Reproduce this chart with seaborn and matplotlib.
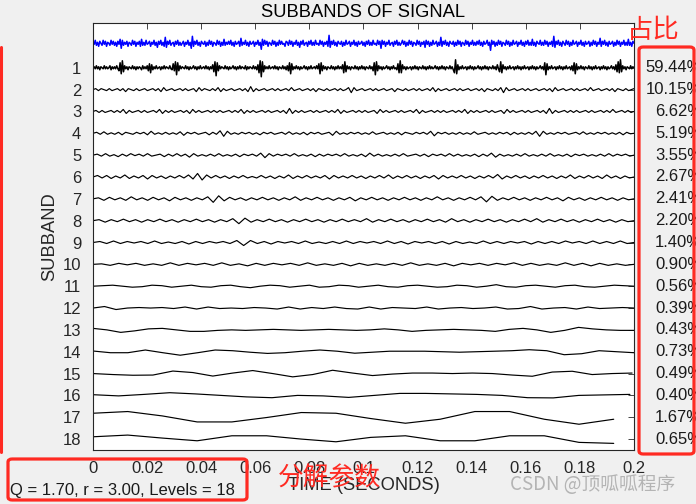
import numpy as np
import pandas as pd
import matplotlib
matplotlib.use("Agg")
import matplotlib.pyplot as plt
import seaborn as sns
from matplotlib.patches import FancyBboxPatch
from matplotlib.lines import Line2D
import matplotlib.transforms as mtransforms

# ---------------- data (amplitudes, in pixel-ish units, up = positive) -------------
signal = [2,-1,3,-2,1,-3,2,0,-2,3,-1,2,-3,1,0,-2,3,-1,2,-2,
          1,-3,2,-1,4,-5,3,-2,1,-1,2,-3,1,0,-2,3,-1,2,-3,1,
          -1,2,-3,4,-2,1,-2,3,-1,0,2,-3,1,-1,3,-2,1,-4,2,-1,
          3,-2,1,-3,6,-4,2,-1,3,-2,0,1,-3,2,-1,3,-2,1,-2,0,
          2,-3,1,-1,3,-2,1,-5,7,-3,2,-1,3,-2,1,-3,2,0,-1,2,
          -3,1,-2,3,-1,2,-3,1,0,-2,3,-1,2,-3,1,-2,4,-2,1,-1,
          2,-1,3,-2,1,-3,2,-1,0,2,-3,5,-2,1,-1,3,-2,1,-3,2,
          -1,0,2,-3,1,-1,3,-2,1,-6,4,-2,3,-1,2,-3,1,0,-2,3,
          -1,2,-3,1,-2,3,-1,2,-1,0,-3,2,1,-2,3,-1,2,-3,1,-1,
          3,-2,1,-4,2,-1,3,-2,0,1,-3,2,-1,3,-2,1,-2,3,-1,0,
          -2,3,-1,2,-3,1,-1,2,-3,8,-4,2,-1,3,-2,1,-3,2,0,-1,
          2,-3,1,-2,3,-1,0,2,-3,1,-1,3,-2,1,-3,2,-1,0,2,-2,
          1,-3,2,-1,3,-2,1,-2,3,-1,0,-2,3,-1,2,-5,3,-1,2,-3,
          1,-1,3,-2,0,1,-3,2,-1,3,-2,1,-2,0,3,-1,2,-3,1,-2,
          3,-1,2,-3,1,0,-2,3,-1,2,-3,1,-1,2,-4,3,-1,2,-3,1,
          -2,3,-1,0,2,-3,1,-2,6,-3,2,-1,3,-2,1,-3,2,0,-1,2,
          -3,1,-2,3,-1,2,-3,1,0,-2,3,-1,2,-3,1,-1,3,-2,1,-2,
          2,-1,3,-2,1,-3,2,-1,0,3,-2,1,-7,3,-1,2,-3,1,-2,3,
          -1,2,-3,1,0,-2,3,-1,2,-3,1,-2,3,-1,0,2,-3,1,-1,3,
          -2,1,-3,2,-1,3,-2,1,-2,4,-2,1,-3,2,0,-1,3,-2,1,-2,
          3,-1,2,-3,1,-1,2,-3,7,-4,2,-1,3,-2,1,-3,2,0,-2,3,
          -1,2,-3,1,-2,3,-1,0,2,-3,1,-1,3,-2,1,-3,2,-1,0,2,
          -3,1,-2,3,-1,2,-3,1,-1,5,-3,2,-1,3,-2,1,-3,2,-1,0,
          2,-3,1,-2,3,-1,2,-3,1,-1,3,-2,1,-2,4,-2,1,-3,2,0]
sb1 = [0,1,-1,2,-1,1,-2,1,0,-1,2,-1,1,-1,0,2,-2,1,-1,1,
       -1,2,-1,-3,5,-6,7,-4,2,-1,1,-2,1,0,-1,2,-1,1,-2,1,
       -1,1,0,-2,2,-1,1,-1,2,-3,4,-5,3,-2,1,-1,2,-1,0,1,
       -2,1,-1,2,-1,1,0,-1,2,-1,-2,4,-3,6,-7,5,-3,2,-1,1,
       0,-1,2,-1,1,-2,1,-1,0,2,-1,1,-2,1,-1,2,-1,0,1,-1,
       2,-1,1,-2,1,-1,3,-4,6,-8,5,-3,2,-1,1,0,-1,2,-1,1,
       -2,1,-1,0,2,-1,1,-2,1,-1,2,-1,1,0,-1,2,-2,1,-1,1,
       0,-1,2,-1,1,-2,3,-5,7,-9,6,-4,2,-1,1,-1,2,-1,0,1,
       -1,2,-1,1,-2,1,0,-1,2,-1,1,-2,2,-3,5,-6,4,-2,1,-1,
       2,-1,1,-2,1,-1,0,2,-1,1,-2,1,-1,2,-1,0,1,-1,2,-1,
       4,-6,5,-3,2,-1,1,-2,1,0,-1,2,-1,1,-2,1,-1,2,-1,1,
       -1,3,-5,6,-4,2,-1,1,-2,1,0,-1,2,-1,1,-2,1,-1,2,-1,
       1,-2,1,0,-1,2,-1,1,-3,5,-7,6,-3,2,-1,1,-2,1,-1,0,
       2,-1,1,-2,1,-1,2,-1,0,-2,4,-5,7,-5,3,-1,1,-2,1,-1,
       0,1,-2,1,-1,2,-1,1,-2,1,0,-1,2,-1,1,-2,1,-1,2,-1,
       1,-1,0,2,-1,1,-2,1,-1,2,-1,1,-2,1,0,-1,2,-1,1,-2,
       -5,8,-6,3,-2,1,-1,2,-1,0,1,-2,1,-1,2,-1,1,-2,1,-1,
       0,2,-1,1,-2,1,-1,2,-1,1,-2,1,0,-1,2,-1,1,-2,3,-1,
       -4,6,-5,3,-1,1,-2,1,-1,2,-1,0,1,-2,1,-1,2,-1,1,-2,
       1,-1,2,-1,0,1,-2,1,-1,2,-1,1,-2,1,-1,0,2,-1,1,-2,
       5,-7,4,-2,1,-1,2,-1,0,1,-2,1,-1,2,-1,1,-2,1,-1,2,
       -1,0,1,-2,2,-3,5,-6,4,-2,1,-1,2,-1,1,-2,1,0,-1,2,
       -1,1,-2,1,-1,2,-1,0,1,-2,1,-1,2,-1,1,-2,1,-1,0,2,
       -1,1,-2,3,-4,6,-5,8,-4,2,-1,1,-2,1,0,-1,2,-1,1,0]
sb2 = [0,1,-1,1,0,-1,1,-1,0,1,-1,1,-2,1,0,-1,1,-1,0,1,
       -1,0,1,-1,1,-2,2,-1,0,1,-1,0,1,-1,1,-1,0,1,-2,2,
       -1,1,0,-1,1,-1,2,-2,1,-1,0,1,-1,0,1,-1,1,-2,3,-2,
       1,-1,0,1,-1,0,1,-1,1,-1,0,1,-1,2,-1,0,1,-1,0,1,
       -1,1,-2,1,0,-1,1,-1,0,1,-1,1,-1,0,2,-3,2,-1,0,1,
       -1,0,1,-1,1,-1,0,1,-1,0,1,-2,1,0,-1,1,-1,0,1,-1,
       1,-1,0,1,-1,2,-2,1,-1,0,1,-1,0,1,-1,1,-1,0,1,-1,
       0,1,-1,1,-2,1,0,-1,1,-1,2,-3,2,-1,0,1,-1,0,1,-1,
       1,-1,0,1,-1,0,1,-1,1,-2,2,-1,0,1,-1,0,1,-1,1,-1,
       0,1,-1,2,-1,0,1,-1,0,1,-1,1,-2,1,0,-1,1,-1,0,1]
sb3 = [0,1,-1,1,-1,0,1,-1,1,-1,2,-2,1,-1,0,1,-1,1,-1,0,
       1,-1,2,-2,1,-1,1,-1,0,1,-1,1,-2,2,-1,1,-1,0,1,-1,
       1,-1,1,-1,0,1,-1,1,-1,2,-2,1,-1,1,-1,0,1,-1,1,-1,
       0,1,-1,1,-2,3,-2,1,-1,1,-1,0,1,-1,1,-1,0,1,-1,1,
       -1,2,-2,1,-1,0,1,-1,1,-1,1,-1,0,1,-2,2,-1,1,-1,0,
       1,-1,1,-1,0,1,-1,2,-2,1,-1,0,1,-1,1,-1,1,-1,0,1,
       -1,1,-1,2,-2,1,-1,1,-1,0,1,-1,1,-1,0,1,-2,2,-1,1,
       -1,0,1,-1,1,-1,0,1,-1,1,-2,3,-2,1,-1,0,1,-1,1,-1,
       1,-1,0,1,-1,1,-1,0,1,-1,1,-1,2,-1,0,1,-1,1,-1,0]
sb4 = [0,1,-1,1.5,-1,0.5,-1,1,-1.5,1,0,-1,1,-0.5,1,-1.5,2,-1,0.5,-1,
       1,-1,0.5,-1,1.5,-2,1,-0.5,1,-1,0,1,-1.5,1,-1,2.5,-3,2,-1,0.5,
       -1,1,-0.5,1,-1,0.5,-1.5,1,-0.5,1,-1,0,1,-1,1.5,-1,0.5,-1,1,-1.5,
       1,-0.5,1,-1,0,1,-2,2,-1,0.5,-1,1,-0.5,1,-1,0.5,-1,1.5,-1,0,
       1,-1,0.5,-1,1,-1.5,1,0,-1,1,-0.5,1,-1,2,-2.5,1,-0.5,1,-1,0.5,
       -1,1,-1,0.5,-1,1.5,-1,0,1,-1,0.5,-1,1,-0.5,1,-1.5,1,-1,0.5,-1,
       1,-1,2,-3,2,-1,0.5,-1,1,-0.5,1,-1,0,1,-1,1.5,-1,0.5,-1,1,
       -0.5,1,-1,0.5,-1,1,-1.5,1,-0.5,0]
sb5 = [0,1,-1,1.5,-1,0.5,-1.5,1,-1,1.5,-0.5,1,-1,1.5,-1,0,1,-1.5,1,-1,
       1.5,-1,1,-2,1.5,-1,0.5,-1,1,-1,1.5,-1,0.5,-1,1,-1.5,1,-0.5,1,-1,
       2,-2.5,1.5,-1,1,-0.5,1,-1,1.5,-1,0.5,-1,1,-1.5,1,-1,1,-0.5,1,-1,
       1.5,-1,0.5,-1,1,-1.5,2,-1,1,-1,0.5,-1,1,-1,1.5,-1,0,1,-1,1,
       -1.5,1,-0.5,1,-1,1.5,-1,1,-1,0.5,-1,1,-1.5,1,-1,2,-2,1,-1,0.5,
       -1,1,-1,1.5,-1,0.5,-1,1,-1,1.5,-1,0.5,-1,1,-1.5,1,-0.5,1,-1,0.5,
       -1,1,-1,1.5,-1,1,-0.5,1,-1,0]
sb6 = [0,1.5,-1,1.5,-1.5,1,-1,2,-1.5,1,-1,1.5,-2,1.5,-1,1,-1.5,1,-1,1.5,
       -1,2,-2,3.5,-3,2,-1,1.5,-1,1,-1.5,1,-1,1.5,-1,0.5,-1,1.5,-1,1,
       -1.5,1,-1,2,-1.5,1,-1,1.5,-1,1,-1,1.5,-2,1.5,-1,1,-1,1.5,-1,1,
       -1.5,1,-1,1.5,-1,2,-1.5,1,-1,1.5,-1,1,-1.5,1,-1,1.5,-2,1.5,-1,1,
       -1,1.5,-1,1,-1.5,1,-1,1.5,-1,2.5,-2,1,-1,1.5,-1,1,-1.5,1,-1,1.5,
       -1,1,-1.5,1,-1,2,-1.5,1,-1,1.5,-1,1,-1.5,2,-1,1,-1.5,1,-1,0]
sb7 = [0,1,-1.5,1.5,-1,1,-1.5,2,-1,1,-1.5,1.5,-1,1,-2,1.5,-1,1,-1.5,1,
       -1,2,-3.5,3,-2,1.5,-1,1,-1.5,1,-1,1.5,-1,1,-1.5,1,-1,2,-1.5,1,
       -1,1.5,-1,1,-1.5,1,-1,1.5,-2,1,-1,1.5,-1,1,-1.5,1,-1,1.5,-1,1,
       -1.5,1,-1,2,-1,1,-1.5,1,-1,1.5,-1,2,-3,2.5,-1.5,1,-1,1.5,-1,1,
       -1.5,1,-1,1.5,-1,1,-2,1.5,-1,1,-1.5,1,-1,1.5,-1,1,-1.5,1,-1,0]
sb8 = [0,1,-1.5,1,-1,1.5,-1,1,-1.5,1,-1,1.5,-1,1,-1.5,1,-1,1.5,-1,1,
       -1.5,1,-1,2,-3,2.5,-1.5,1,-1,1.5,-1,1,-1.5,1,-1,1.5,-1,1,-1.5,1,
       -1,1.5,-1,1,-1,2,-1.5,1,-1,1.5,-1,1,-1.5,1,-1,1.5,-1,1,-1.5,2,
       -1,1,-1.5,1,-1,1.5,-1,1,-1.5,1,-1,1.5,-1,2,-1.5,1,-1,1.5,-1,1,
       -1.5,1,-1,1.5,-1,1,-1.5,1,-1,0]
sb9 = [0,1,-1,1.5,-1,1,-0.5,1,-1,1.5,-1,0.5,-1,1,-1.5,1,-1,1,-0.5,1,
       -1,2,-3,2,-1,1,-1.5,1,-0.5,1,-1,1.5,-1,0.5,-1,1,-1,1.5,-1,1,
       -0.5,1,-1,1.5,-1,1,-1.5,1,-0.5,1,-1,1,-1.5,1,-1,0.5,-1,1.5,-1,1,
       -1,1,-0.5,1,-1.5,1,-1,1,-1,1.5,-0.5,1,-1,1.5,-1,1,-1,1.5,-1,0]
sb10 = [0,0.5,-1,1,-0.5,1,-1,0.5,-1,1.5,-1,1,-0.5,1,-1,1.5,-1,0.5,-1.5,1,
        -1,1,-0.5,1,-1,1.5,-1,0.5,-1,1,-1.5,1,-1,0.5,-1,1,-1,1.5,-1,0.5,
        -1,1,-1.5,1,-0.5,1,-1,1,-0.5,1.5,-1,1,-1,0.5,-1,1.5,-1,1,-1.5,1,
        -1,0.5,-1,0]
sb11 = [0,0.5,1,0,-1,-0.5,1,0.5,-1,0,1,-0.5,-1,0.5,1,-0.5,-1.5,0,1,0.5,
        -1,0,1,-1,-0.5,1,0.5,-1,0,1,-0.5,-1,0.5,1,0,-1,-0.5,1,0.5,-1,
        0,1.5,-0.5,-1,0.5,1,0,-1,0.5,1,-0.5,-1,0,1,0.5,0]
sb12 = [0,1.5,-1.5,0,0.5,0,0.5,-0.5,1,-1,1,-0.5,0,-0.5,0.5,0,-1,1,-1,0.5,
        -0.5,1,-0.5,-1,1,-1,0.5,0,-0.5,1,-1,0,0.5,-0.5,0,1,-1,-0.5,1.5,-1,
        0,0.5,-1,1,-0.5,0,0.5,0]
sb13 = [1.5,0,-2.5,-1,1,1.5,0,-1.5,-1.5,-0.5,0,-0.5,0,0.5,0,-0.5,0,0.5,0,-0.5,
        0,1,0,-1.5,-0.5,0,0.5,0,-0.5,-1.5,0.5,1.5,0,-2.5,-0.5,2.5,1,0,-0.5,-0.5]
sb14 = [0.7,-1,-1,1.7,-1,-3.5,-1,1.7,1,-0.5,-1.7,-1,0.5,1.7,0.5,-1.5,
        -0.5,0.5,0.5,0.5,0,-0.5,0,0.5,1,2,1,-3,-2,1,0,-1]
sb15 = [0,-1,-1.7,-1.5,2.5,1,-2.5,0.5,3,0,-3.3,-1,3.3,0.5,
        -2,-0.5,0.5,0.5,0,0.5,0,-1.5,-2.7,1.5,2.3,-1,0,0.5]
sb16 = [0.7,-0.5,1,2.7,1.5,0,-1.5,-2.3,0,-0.5,-2,
        0,2,2,1.5,1,0,-2.3,-2.5,0,0.5,1]
sb17 = [4,5.7,1.3,-4.7,-4.7,-0.3,4.7,4,-1.3,-6,-2,5.7,5.7,-2,-7,-2]
sb18 = [2.3,4,1,-1.7,3.3,3.3,0,-2.7,1.7,3.3,-1.7,-1.7,3.3,3.3,-3.3,-4.3]

series = [signal, sb1, sb2, sb3, sb4, sb5, sb6, sb7, sb8, sb9, sb10, sb11,
          sb12, sb13, sb14, sb15, sb16, sb17, sb18]
end_times = [0.2] * 15 + [0.1993, 0.1985, 0.1925, 0.1925]
band_names = ["signal"] + [str(k) for k in range(1, 19)]
offsets = [-0.12] + list(range(1, 19))
percents = [59.44, 10.15, 6.62, 5.19, 3.55, 2.67, 2.41, 2.20, 1.40, 0.90,
            0.56, 0.39, 0.43, 0.73, 0.49, 0.40, 1.67, 0.65]
subband_ticks = list(range(1, 19))
time_ticks = [0, 0.02, 0.04, 0.06, 0.08, 0.1, 0.12, 0.14, 0.16, 0.18, 0.2]
time_labels = ["0", "0.02", "0.04", "0.06", "0.08", "0.1", "0.12", "0.14", "0.16", "0.18", "0.2"]
params_text = "Q = 1.70, r = 3.00, Levels = 18"

gain = 1 / 21.85  # display scale of the amplitudes

# ---------------- build long table ----------------
rows = []
for name, vals, off, tend in zip(band_names, series, offsets, end_times):
    t = np.linspace(0, tend, len(vals))
    y = off - np.asarray(vals, dtype=float) * gain
    rows.append(pd.DataFrame({"t": t, "y": y, "band": name}))
df = pd.concat(rows, ignore_index=True)

# ---------------- style ----------------
sns.set_theme(style="white")
plt.rcParams["font.family"] = ["Liberation Sans", "Noto Sans CJK SC", "DejaVu Sans"]
plt.rcParams["axes.unicode_minus"] = False

W, H = 696, 504
fig = plt.figure(figsize=(W / 100, H / 100), dpi=100, facecolor="#f0f0f0")
ax = fig.add_axes([93 / W, 1 - 450 / H, 541 / W, 427 / H])
ax.set_facecolor("white")

palette = {n: "black" for n in band_names}
palette["signal"] = "#0000ff"
sns.lineplot(data=df, x="t", y="y", hue="band", hue_order=band_names,
             palette=palette, estimator=None, legend=False, linewidth=0.85,
             ax=ax)
# the two densest traces are drawn a touch heavier, as in the reference
for ln in ax.lines[:2]:
    ln.set_linewidth(1.1)

ax.set_xlim(0, 0.2)
ax.set_ylim(18.5, -1.05)
ax.set_xticks(time_ticks)
ax.set_xticklabels(time_labels)
ax.set_yticks(subband_ticks)
ax.set_yticklabels([str(k) for k in subband_ticks])
ax.tick_params(axis="both", direction="in", length=4, width=0.6, colors="#262626",
               labelsize=12, top=True, right=True)
ax.tick_params(axis="x", pad=8)
ax.tick_params(axis="y", pad=8.5)
for s in ax.spines.values():
    s.set_color("#262626")
    s.set_linewidth(0.8)

ax.set_title("SUBBANDS OF SIGNAL", fontsize=13.2, pad=4, color="black")
ax.set_xlabel("TIME (SECONDS)", fontsize=13.2, labelpad=1, color="#262626")
ax.set_ylabel("SUBBAND", fontsize=13.2, labelpad=3, color="#262626")

trans = mtransforms.blended_transform_factory(ax.transAxes, ax.transData)
for k, p in zip(subband_ticks, percents):
    ax.text(1.126, k, f"{p:.2f}%", transform=trans, ha="right", va="center",
            fontsize=12, color="#1a1a1a", clip_on=False)

fig.text(10 / W, 1 - 490 / H, params_text, ha="left", va="center", fontsize=12,
         color="#1a1a1a")

# ---------------- red annotations ----------------
red = "#ff2a22"
def fx(x): return x / W
def fy(y): return 1 - y / H

for (x0, y0, x1, y1) in [(639, 47, 694, 454), (8, 459, 247, 500)]:
    fig.patches.append(FancyBboxPatch((fx(x0), fy(y1)), fx(x1) - fx(x0), fy(y0) - fy(y1),
                                      boxstyle="round,pad=0,rounding_size=0.006",
                                      transform=fig.transFigure, fill=False,
                                      edgecolor=red, linewidth=2.3))
fig.lines.append(Line2D([fx(1), fx(1)], [fy(47), fy(452)], transform=fig.transFigure,
                        color=red, linewidth=2.2))
fig.text(fx(653), fy(30), "占比", ha="center", va="center", fontsize=19, color=red,
         family=["Noto Sans CJK SC", "DejaVu Sans"], fontweight="light")
fig.text(fx(329), fy(478), "分解参数", ha="center", va="center", fontsize=18.5, color=red,
         family=["Noto Sans CJK SC", "DejaVu Sans"], fontweight="light")
fig.text(fx(510), fy(485), "CSDN @顶呱呱程序", ha="left", va="center", fontsize=13.5,
         color="#b4b4b4", family=["Noto Sans CJK SC", "DejaVu Sans"])

fig.savefig("out.png", dpi=100, facecolor=fig.get_facecolor())
